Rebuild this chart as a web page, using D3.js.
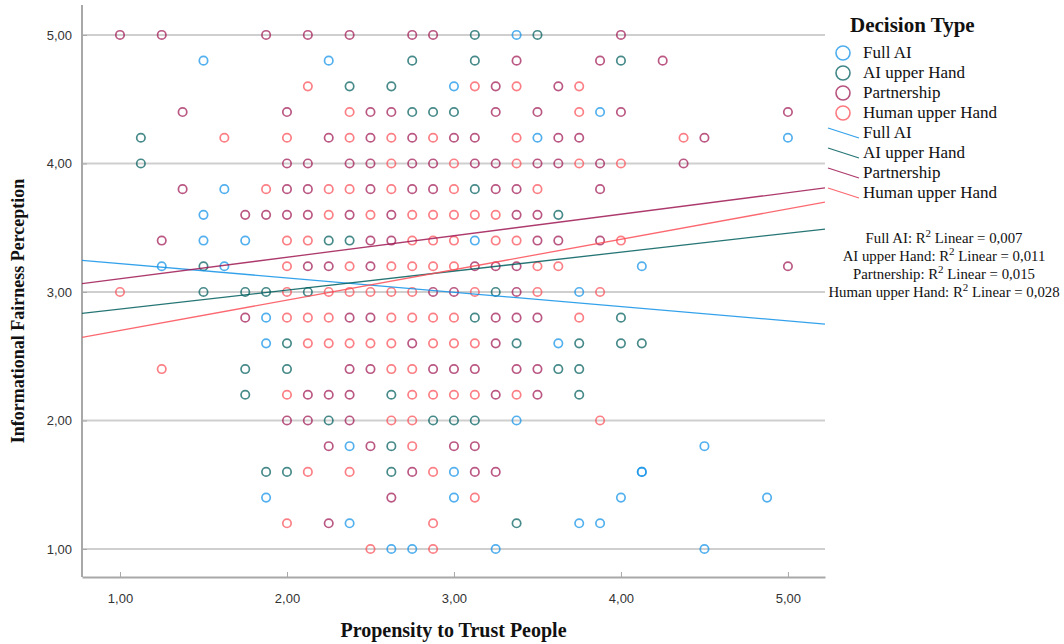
<!DOCTYPE html>
<html>
<head>
<meta charset="utf-8">
<script src="https://cdn.jsdelivr.net/npm/d3@7"></script>
<style>
  body { margin: 0; background: #fff; }
  svg { display: block; }
</style>
</head>
<body>
<svg id="chart" width="1064" height="644"></svg>
<script>
// Scatter of informational fairness vs. propensity to trust, by decision type
const seriesNames = ["Full AI", "AI upper Hand", "Partnership", "Human upper Hand"];
const seriesColors = ["#1192e8", "#005d5d", "#9f1853", "#fa4d56"];

// [propensity to trust, informational fairness]
const fullAI = [
  [3.375,5.0],[1.5,4.8],[2.25,4.8],[3.0,4.6],[3.875,4.4],[3.5,4.2],[5.0,4.2],
  [1.625,3.8],[1.5,3.6],[1.5,3.4],[1.75,3.4],[3.125,3.4],[1.25,3.2],[1.625,3.2],
  [4.125,3.2],[3.75,3.0],[1.875,2.8],[1.875,2.6],[3.625,2.6],[3.375,2.0],
  [2.375,1.8],[4.5,1.8],[3.0,1.6],[4.125,1.6],[4.125,1.6],[1.875,1.4],[3.0,1.4],
  [4.0,1.4],[4.875,1.4],[2.375,1.2],[3.75,1.2],[3.875,1.2],[2.625,1.0],[2.75,1.0],
  [3.25,1.0],[4.5,1.0]
];
const aiUpperHand = [
  [3.125,5.0],[3.5,5.0],[2.75,4.8],[3.125,4.8],[4.0,4.8],[2.375,4.6],[2.625,4.6],
  [2.75,4.4],[2.875,4.4],[3.0,4.4],[1.125,4.2],[1.125,4.0],[3.125,3.8],[3.625,3.6],
  [2.25,3.4],[2.375,3.4],[1.5,3.2],[1.5,3.0],[1.75,3.0],[1.875,3.0],[2.125,3.0],
  [3.25,3.0],[3.125,2.8],[4.0,2.8],[2.0,2.6],[3.375,2.6],[3.75,2.6],[4.0,2.6],
  [4.125,2.6],[1.75,2.4],[2.0,2.4],[3.625,2.4],[3.75,2.4],[1.75,2.2],[2.625,2.2],
  [3.75,2.2],[2.25,2.0],[2.875,2.0],[3.0,2.0],[3.125,2.0],[2.625,1.8],[1.875,1.6],
  [2.0,1.6],[2.625,1.6],[3.375,1.2]
];
const partnership = [
  [1.0,5.0],[1.25,5.0],[1.875,5.0],[2.125,5.0],[2.375,5.0],[2.75,5.0],[2.875,5.0],[4.0,5.0],
  [3.375,4.8],[3.875,4.8],[4.25,4.8],[3.25,4.6],[3.625,4.6],
  [1.375,4.4],[2.0,4.4],[2.5,4.4],[2.625,4.4],[3.25,4.4],[3.5,4.4],[4.0,4.4],[5.0,4.4],
  [2.25,4.2],[2.5,4.2],[2.75,4.2],[3.0,4.2],[3.125,4.2],[3.625,4.2],[3.75,4.2],[4.5,4.2],
  [2.0,4.0],[2.125,4.0],[2.375,4.0],[2.5,4.0],[2.75,4.0],[2.875,4.0],[3.125,4.0],[3.25,4.0],
  [3.5,4.0],[3.625,4.0],[3.875,4.0],[4.375,4.0],
  [1.375,3.8],[2.0,3.8],[2.125,3.8],[2.5,3.8],[2.75,3.8],[2.875,3.8],[3.25,3.8],[3.375,3.8],[3.875,3.8],
  [1.75,3.6],[1.875,3.6],[2.0,3.6],[2.125,3.6],[2.375,3.6],[2.625,3.6],[3.375,3.6],[3.5,3.6],
  [1.25,3.4],[2.5,3.4],[2.625,3.4],[3.5,3.4],[3.625,3.4],[3.875,3.4],
  [2.125,3.2],[2.25,3.2],[2.5,3.2],[3.125,3.2],[3.25,3.2],[3.375,3.2],[5.0,3.2],
  [2.875,3.0],[3.0,3.0],[3.375,3.0],
  [1.75,2.8],[2.375,2.8],[2.5,2.8],[3.25,2.8],[3.375,2.8],[3.5,2.8],
  [2.75,2.6],[3.25,2.6],
  [2.375,2.4],[2.5,2.4],[2.875,2.4],[3.0,2.4],[3.125,2.4],[3.375,2.4],[3.5,2.4],
  [2.125,2.2],[2.25,2.2],[2.375,2.2],[3.25,2.2],[3.5,2.2],
  [2.0,2.0],[2.125,2.0],[2.375,2.0],
  [2.25,1.8],[2.5,1.8],[3.0,1.8],[3.125,1.8],
  [2.75,1.6],[3.125,1.6],[3.25,1.6],[2.625,1.4],[2.25,1.2]
];
const humanUpperHand = [
  [2.125,4.6],[3.125,4.6],[3.375,4.6],[3.75,4.6],[2.375,4.4],[3.75,4.4],
  [1.625,4.2],[2.0,4.2],[2.375,4.2],[2.625,4.2],[2.875,4.2],[3.375,4.2],[4.375,4.2],
  [2.625,4.0],[3.0,4.0],[3.375,4.0],[3.75,4.0],[4.0,4.0],
  [1.875,3.8],[2.25,3.8],[2.375,3.8],[2.625,3.8],[3.0,3.8],[3.5,3.8],
  [2.25,3.6],[2.5,3.6],[2.75,3.6],[2.875,3.6],[3.0,3.6],[3.125,3.6],[3.25,3.6],
  [2.0,3.4],[2.125,3.4],[2.75,3.4],[2.875,3.4],[3.0,3.4],[3.25,3.4],[3.375,3.4],[4.0,3.4],
  [2.0,3.2],[2.375,3.2],[2.625,3.2],[2.75,3.2],[2.875,3.2],[3.0,3.2],[3.5,3.2],[3.625,3.2],
  [1.0,3.0],[2.0,3.0],[2.25,3.0],[2.375,3.0],[2.5,3.0],[2.625,3.0],[2.75,3.0],[3.125,3.0],[3.5,3.0],[3.875,3.0],
  [2.0,2.8],[2.125,2.8],[2.25,2.8],[2.625,2.8],[2.75,2.8],[2.875,2.8],[3.0,2.8],[3.75,2.8],
  [2.125,2.6],[2.25,2.6],[2.375,2.6],[2.5,2.6],[2.625,2.6],[2.875,2.6],[3.0,2.6],[3.125,2.6],
  [1.25,2.4],[2.625,2.4],[2.75,2.4],
  [2.0,2.2],[2.75,2.2],[2.875,2.2],[3.0,2.2],[3.125,2.2],[3.375,2.2],
  [2.625,2.0],[2.75,2.0],[3.875,2.0],[2.75,1.8],
  [2.125,1.6],[2.375,1.6],[2.875,1.6],[3.125,1.4],[2.0,1.2],[2.875,1.2],[2.5,1.0],[2.875,1.0]
];

// Linear fit lines: y = intercept + slope * x
const fitIntercepts = [3.332, 2.720, 2.935, 2.463];
const fitSlopes = [-0.1114, 0.1474, 0.1675, 0.2367];
const rSquaredLabels = ["0,007", "0,011", "0,015", "0,028"];

const xTicks = [1, 2, 3, 4, 5];
const yTicks = [1, 2, 3, 4, 5];
const xDomain = [0.7725, 5.222];
const yDomain = [0.782, 5.233];

const series = [fullAI, aiUpperHand, partnership, humanUpperHand];

const svg = d3.select("#chart");
const plot = { left: 82, right: 825, top: 5, bottom: 577 };

const x = d3.scaleLinear().domain(xDomain).range([plot.left, plot.right]);
const y = d3.scaleLinear().domain(yDomain).range([plot.bottom, plot.top]);
const fmt = v => d3.format(".2f")(v).replace(".", ",");
const serif = "'Liberation Serif', 'Times New Roman', serif";

svg.append("rect").attr("width", 1064).attr("height", 644).attr("fill", "#fff");

// horizontal grid
svg.append("g")
  .selectAll("line").data(yTicks).join("line")
  .attr("x1", plot.left).attr("x2", plot.right)
  .attr("y1", d => y(d)).attr("y2", d => y(d))
  .attr("stroke", "#cfcfcf").attr("stroke-width", 2);

// axes
const xAxis = svg.append("g")
  .attr("transform", `translate(0,${plot.bottom})`)
  .call(d3.axisBottom(x).tickValues(xTicks).tickFormat(fmt).tickSizeInner(-5).tickSizeOuter(0).tickPadding(17));
const yAxis = svg.append("g")
  .attr("transform", `translate(${plot.left},0)`)
  .call(d3.axisLeft(y).tickValues(yTicks).tickFormat(fmt).tickSizeInner(-5).tickSizeOuter(0).tickPadding(10));
[xAxis, yAxis].forEach(g => {
  g.select(".domain").attr("stroke", "#a8a8a8").attr("stroke-width", 2);
  g.selectAll(".tick line").attr("stroke", "#a8a8a8");
  g.selectAll(".tick text")
    .attr("font-family", "'Liberation Sans', Arial, sans-serif")
    .attr("font-size", 13).attr("fill", "#333");
});
yAxis.select(".domain").attr("d", `M0,${plot.top}V${plot.bottom}`);

// axis titles
svg.append("text")
  .attr("x", (plot.left + plot.right) / 2).attr("y", 637)
  .attr("text-anchor", "middle")
  .attr("font-family", serif)
  .attr("font-weight", "bold").attr("font-size", 20).attr("fill", "#111")
  .text("Propensity to Trust People");
svg.append("text")
  .attr("transform", "translate(24,311) rotate(-90)")
  .attr("text-anchor", "middle")
  .attr("font-family", serif)
  .attr("font-weight", "bold").attr("font-size", 18).attr("fill", "#111")
  .text("Informational Fairness Perception");

// clip for fit lines
svg.append("clipPath").attr("id", "plotClip")
  .append("rect").attr("x", plot.left).attr("y", plot.top)
  .attr("width", plot.right - plot.left).attr("height", plot.bottom - plot.top);

// points
series.forEach((pts, i) => {
  svg.append("g")
    .selectAll("circle").data(pts).join("circle")
    .attr("cx", d => x(d[0])).attr("cy", d => y(d[1])).attr("r", 4.2)
    .attr("fill", "none").attr("stroke", seriesColors[i])
    .attr("stroke-width", 1.7).attr("stroke-opacity", 0.72);
});

// fit lines
const fitG = svg.append("g").attr("clip-path", "url(#plotClip)");
seriesNames.forEach((name, i) => {
  const x0 = xDomain[0], x1 = xDomain[1];
  fitG.append("line")
    .attr("x1", x(x0)).attr("y1", y(fitIntercepts[i] + fitSlopes[i] * x0))
    .attr("x2", x(x1)).attr("y2", y(fitIntercepts[i] + fitSlopes[i] * x1))
    .attr("stroke", seriesColors[i]).attr("stroke-width", 1.3).attr("stroke-opacity", 0.85);
});

// legend
const legend = svg.append("g");
legend.append("text").attr("x", 850).attr("y", 32)
  .attr("font-family", serif).attr("font-weight", "bold").attr("font-size", 21)
  .attr("fill", "#111").text("Decision Type");
seriesNames.forEach((name, i) => {
  const cy = 53 + i * 20;
  legend.append("circle").attr("cx", 843).attr("cy", cy).attr("r", 7)
    .attr("fill", "none").attr("stroke", seriesColors[i])
    .attr("stroke-width", 1.6).attr("stroke-opacity", 0.75);
  legend.append("text").attr("x", 863).attr("y", cy + 5)
    .attr("font-family", serif).attr("font-size", 17).attr("fill", "#111").text(name);
});
seriesNames.forEach((name, i) => {
  const cy = 133 + i * 20;
  legend.append("line").attr("x1", 828).attr("y1", cy - 5).attr("x2", 859).attr("y2", cy + 5)
    .attr("stroke", seriesColors[i]).attr("stroke-width", 1.3).attr("stroke-opacity", 0.85);
  legend.append("text").attr("x", 863).attr("y", cy + 5)
    .attr("font-family", serif).attr("font-size", 17).attr("fill", "#111").text(name);
});

// R² annotations
seriesNames.forEach((name, i) => {
  const t = legend.append("text").attr("x", 944).attr("y", 243 + i * 18)
    .attr("text-anchor", "middle")
    .attr("font-family", serif).attr("font-size", 14.8).attr("fill", "#111");
  t.append("tspan").text(`${name}: R`);
  t.append("tspan").attr("dy", -6).attr("font-size", 11).text("2");
  t.append("tspan").attr("dy", 6).text(` Linear = ${rSquaredLabels[i]}`);
});
</script>
</body>
</html>
